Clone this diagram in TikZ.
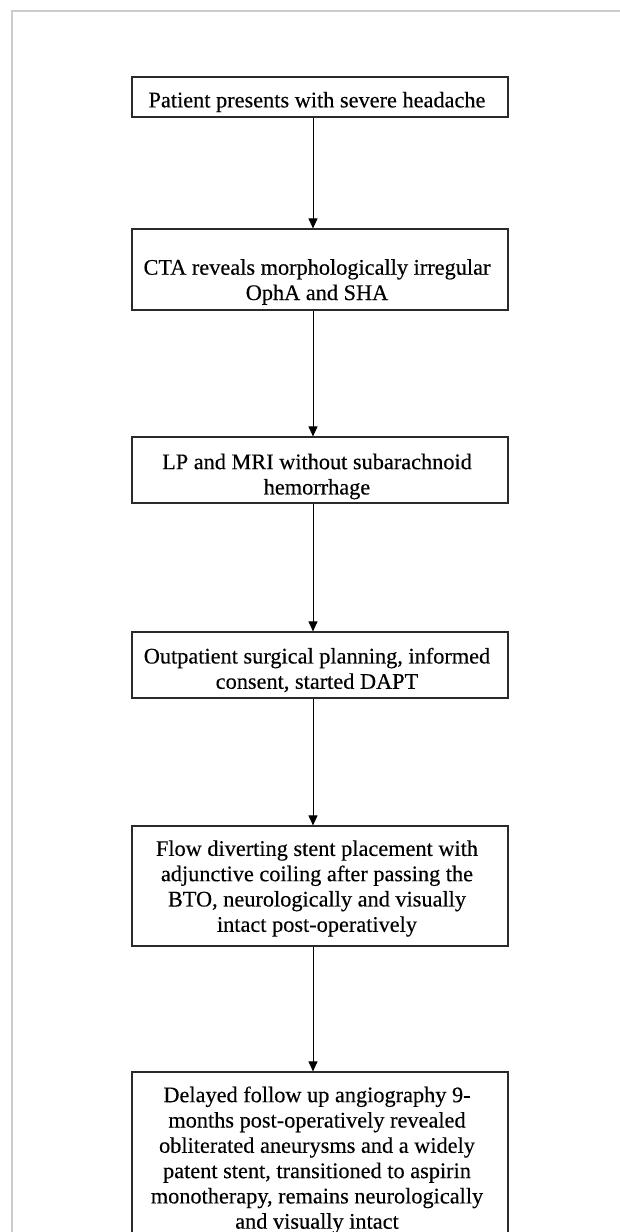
\documentclass[tikz,border=0pt]{standalone}
\usepackage{fontspec}
\setmainfont{Liberation Serif}[FakeBold=0.3]
\usetikzlibrary{arrows.meta}
\definecolor{framegray}{HTML}{CCCCCC}
\definecolor{boxline}{HTML}{2A2A2A}
\tikzset{
  stepbox/.style={draw=boxline, line width=1.2pt, minimum width=376pt, inner sep=0pt},
  steptext/.style={align=center, inner sep=0pt, font=\fontsize{22.3}{25.3}\selectfont, text=black},
  flow/.style={draw=black, line width=1pt, -{Triangle[length=10pt,width=9pt]}},
}
\begin{document}
\begin{tikzpicture}[x=1pt,y=-1pt]
\useasboundingbox (0,0) rectangle (620,1232);
\clip (0,0) rectangle (620,1232);
\draw[framegray, line width=1.5pt] (12,1232) -- (12,11) -- (620,11);
\node[stepbox, minimum height=40pt] (b1) at (320,97) {};
\node[steptext] (t1) at (317,102) {Patient presents with severe headache};
\node[stepbox, minimum height=81pt] (b2) at (320,269.5) {};
\node[steptext] (t2) at (317,282) {CTA reveals morphologically irregular\\OphA and SHA};
\node[stepbox, minimum height=66pt] (b3) at (320,470) {};
\node[steptext] (t3) at (317,476.5) {LP and MRI without subarachnoid\\hemorrhage};
\node[stepbox, minimum height=66pt] (b4) at (320,665) {};
\node[steptext] (t4) at (317,670) {Outpatient surgical planning, informed\\consent, started DAPT};
\node[stepbox, minimum height=120pt] (b5) at (320,886) {};
\node[steptext] (t5) at (317,888.5) {Flow diverting stent placement with\\adjunctive coiling after passing the\\BTO, neurologically and visually\\intact post-operatively};
\node[stepbox, minimum height=176pt] (b6) at (320,1160) {};
\node[steptext] (t6) at (317,1160) {Delayed follow up angiography 9-\\months post-operatively revealed\\obliterated aneurysms and a widely\\patent stent, transitioned to aspirin\\monotherapy, remains neurologically\\and visually intact};
\draw[flow] ([xshift=-7pt]b1.south) -- ([xshift=-7pt]b2.north);
\draw[flow] ([xshift=-7pt]b2.south) -- ([xshift=-7pt]b3.north);
\draw[flow] ([xshift=-7pt]b3.south) -- ([xshift=-7pt]b4.north);
\draw[flow] ([xshift=-7pt]b4.south) -- ([xshift=-7pt]b5.north);
\draw[flow] ([xshift=-7pt]b5.south) -- ([xshift=-7pt]b6.north);
\end{tikzpicture}
\end{document}
